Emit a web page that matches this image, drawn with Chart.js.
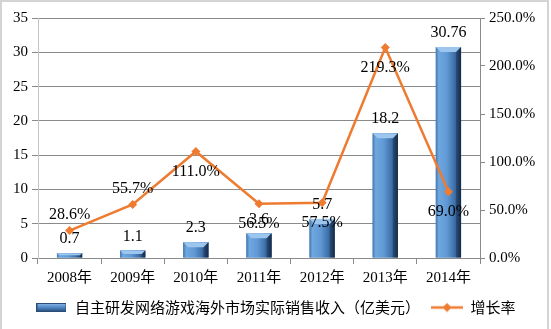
<!DOCTYPE html>
<html>
<head>
<meta charset="utf-8">
<script src="https://cdn.jsdelivr.net/npm/chart.js@4.4.1/dist/chart.umd.min.js"></script>
<style>
  html, body { margin: 0; padding: 0; background: #fff; }
  #wrap { width: 551px; height: 329px; }
</style>
</head>
<body>
<div id="wrap"><canvas id="myChart" width="551" height="329"></canvas></div>
<script>
// datos
const years = ["2008年", "2009年", "2010年", "2011年", "2012年", "2013年", "2014年"];
const revenue = [0.7, 1.1, 2.3, 3.6, 5.7, 18.2, 30.76];
const revenueLabels = ["0.7", "1.1", "2.3", "3.6", "5.7", "18.2", "30.76"];
const growth = [28.6, 55.7, 111.0, 56.5, 57.5, 219.3, 69.0];
const growthLabels = ["28.6%", "55.7%", "111.0%", "56.5%", "57.5%", "219.3%", "69.0%"];
const leftTicks = [0, 5, 10, 15, 20, 25, 30, 35];
const rightTicks = [0, 50, 100, 150, 200, 250];

const revenueName = "自主研发网络游戏海外市场实际销售收入（亿美元）";
const growthName = "增长率";

const serif = "'Liberation Serif', 'Times New Roman', 'Noto Sans CJK SC', serif";
const orange = "#ee7b30";
const gridGray = "#8a8a8a";

// iconos de la leyenda
function barIcon() {
  const c = document.createElement("canvas");
  c.width = 30; c.height = 9;
  const g = c.getContext("2d");
  const grad = g.createLinearGradient(0, 0, 0, 9);
  grad.addColorStop(0, "#8dbbe8");
  grad.addColorStop(0.5, "#4f86c4");
  grad.addColorStop(1, "#24466f");
  g.fillStyle = grad;
  g.fillRect(0, 0, 30, 9);
  g.strokeStyle = "#2a4d78";
  g.strokeRect(0.5, 0.5, 29, 8);
  return c;
}
function lineIcon() {
  const c = document.createElement("canvas");
  c.width = 32; c.height = 10;
  const g = c.getContext("2d");
  g.strokeStyle = orange;
  g.lineWidth = 2.5;
  g.beginPath(); g.moveTo(0, 5); g.lineTo(32, 5); g.stroke();
  g.fillStyle = orange;
  g.beginPath(); g.moveTo(16, 0.5); g.lineTo(20.5, 5); g.lineTo(16, 9.5); g.lineTo(11.5, 5); g.closePath(); g.fill();
  return c;
}

// barras con efecto 3D
const barShade = {
  id: "barShade",
  afterDatasetDraw(chart, args) {
    if (args.index !== 0) return;
    const ctx = chart.ctx;
    args.meta.data.forEach((bar) => {
      const w = bar.width, x0 = bar.x - w / 2, x1 = bar.x + w / 2;
      const top = bar.y, base = bar.base;
      const grad = ctx.createLinearGradient(x0, 0, x1, 0);
      grad.addColorStop(0, "#4577ad");
      grad.addColorStop(0.12, "#6fa8e0");
      grad.addColorStop(0.45, "#5f98d3");
      grad.addColorStop(0.75, "#3d6fa8");
      grad.addColorStop(1, "#172c4a");
      ctx.save();
      ctx.fillStyle = grad;
      ctx.fillRect(x0, top, w, base - top);
      const b = Math.min(5, (base - top) / 2);
      ctx.fillStyle = "#9cc6ee";
      ctx.beginPath();
      ctx.moveTo(x0, top); ctx.lineTo(x1, top); ctx.lineTo(x1 - b, top + b); ctx.lineTo(x0 + b, top + b);
      ctx.closePath(); ctx.fill();
      ctx.fillStyle = "rgba(20,40,70,0.35)";
      ctx.beginPath();
      ctx.moveTo(x1, top); ctx.lineTo(x1, base); ctx.lineTo(x1 - b, base); ctx.lineTo(x1 - b, top + b);
      ctx.closePath(); ctx.fill();
      ctx.restore();
    });
  },
};

// etiquetas de datos y marco
const labelsPlugin = {
  id: "labelsPlugin",
  beforeDraw(chart) {
    const ctx = chart.ctx;
    ctx.save();
    ctx.strokeStyle = "#d4d4d4";
    ctx.lineWidth = 2;
    ctx.strokeRect(1, 1, chart.width - 4, chart.height + 4);
    ctx.restore();
  },
  afterDatasetsDraw(chart) {
    const ctx = chart.ctx;
    ctx.save();
    ctx.font = "16px " + serif;
    ctx.fillStyle = "#000";
    ctx.textAlign = "center";
    ctx.textBaseline = "middle";
    chart.getDatasetMeta(0).data.forEach((bar, i) => {
      ctx.fillText(revenueLabels[i], bar.x, bar.y - 14);
    });
    chart.getDatasetMeta(1).data.forEach((pt, i) => {
      const dy = i < 2 ? -16 : 20;
      ctx.fillText(growthLabels[i], pt.x, pt.y + dy);
    });
    ctx.restore();
  },
};

const chartDOM = document.getElementById("myChart");
new Chart(chartDOM, {
  type: "bar",
  data: {
    labels: years,
    datasets: [
      {
        type: "bar",
        label: revenueName,
        data: revenue,
        yAxisID: "y",
        backgroundColor: "#4f86c4",
        barPercentage: 0.4,
        categoryPercentage: 1,
        order: 1,
      },
      {
        type: "line",
        label: growthName,
        data: growth,
        yAxisID: "y1",
        borderColor: orange,
        backgroundColor: orange,
        borderWidth: 2.5,
        pointStyle: "rectRot",
        pointRadius: 4.5,
        pointBorderWidth: 0,
        tension: 0,
        order: 0,
      },
    ],
  },
  options: {
    responsive: false,
    animation: false,
    layout: { padding: { top: 18, left: 0, right: 0, bottom: 4 } },
    plugins: {
      tooltip: { enabled: false },
      legend: {
        position: "bottom",
        labels: {
          usePointStyle: true,
          pointStyleWidth: 32,
          padding: 11,
          color: "#000",
          font: { size: 15, family: "'Noto Sans CJK SC', sans-serif" },
          generateLabels: () => [
            { text: revenueName, pointStyle: barIcon(), datasetIndex: 0, lineWidth: 0, strokeStyle: "transparent", fillStyle: "transparent" },
            { text: growthName, pointStyle: lineIcon(), datasetIndex: 1, lineWidth: 0, strokeStyle: "transparent", fillStyle: "transparent" },
          ],
        },
      },
    },
    scales: {
      x: {
        offset: true,
        grid: { offset: true, drawOnChartArea: false, color: gridGray, tickLength: 6 },
        border: { color: gridGray },
        ticks: { color: "#000", font: { size: 15, family: serif }, padding: 5 },
        afterFit: (s) => { s.height = 31; },
      },
      y: {
        position: "left",
        min: 0,
        max: 35,
        afterBuildTicks: (s) => { s.ticks = leftTicks.map((v) => ({ value: v })); },
        grid: { color: gridGray, tickLength: 6 },
        border: { color: "#c4c4c4" },
        ticks: { color: "#000", font: { size: 15, family: serif }, padding: 4 },
        afterFit: (s) => { s.width = 38; },
      },
      y1: {
        position: "right",
        min: 0,
        max: 250,
        afterBuildTicks: (s) => { s.ticks = rightTicks.map((v) => ({ value: v })); },
        grid: { drawOnChartArea: false, color: gridGray, tickLength: 5 },
        border: { color: gridGray },
        ticks: {
          color: "#000",
          font: { size: 15, family: serif },
          padding: 4,
          callback: (v) => v.toFixed(1) + "%",
        },
        afterFit: (s) => { s.width = 71; },
      },
    },
  },
  plugins: [barShade, labelsPlugin],
});
</script>
</body>
</html>
